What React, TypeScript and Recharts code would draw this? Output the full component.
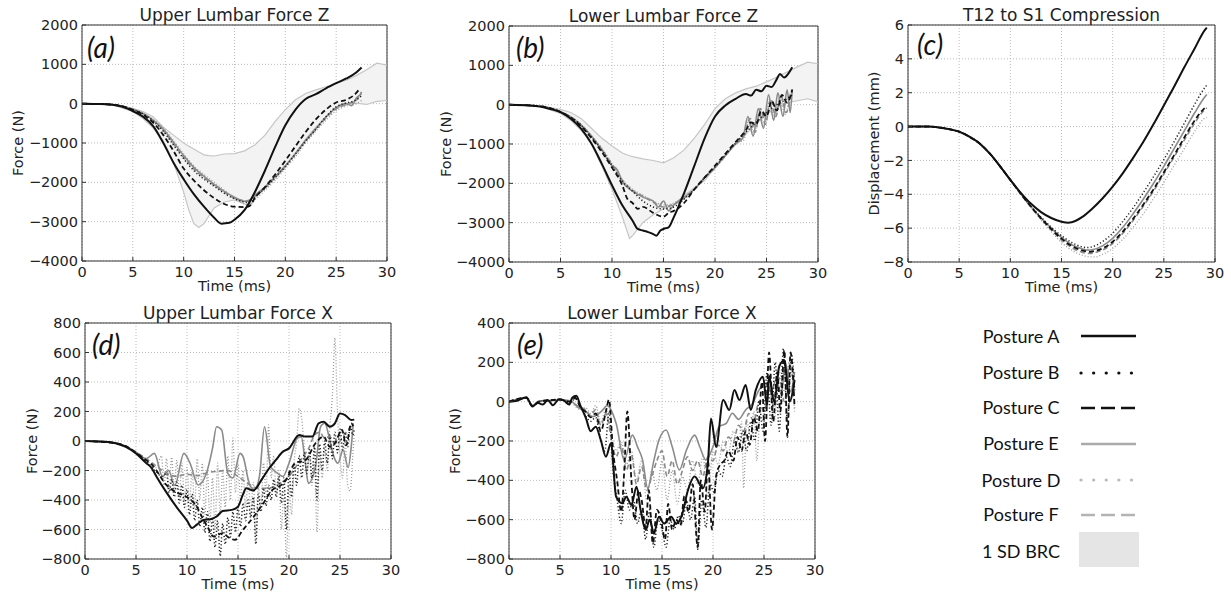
import React from 'react';
import { ComposedChart, Line, Area, XAxis, YAxis, CartesianGrid, ReferenceArea } from 'recharts';

type Pt = [number, number];

// ---------- ticks ----------
const timeTicks = [0, 5, 10, 15, 20, 25, 30];
const forceZTicks = [-4000, -3000, -2000, -1000, 0, 1000, 2000];
const dispTicks = [-8, -6, -4, -2, 0, 2, 4, 6];
const upperXTicks = [-800, -600, -400, -200, 0, 200, 400, 600, 800];
const lowerXTicks = [-800, -600, -400, -200, 0, 200, 400];

const legendLabels = ['Posture A', 'Posture B', 'Posture C', 'Posture E', 'Posture D', 'Posture F', '1 SD BRC'];

// ---------- (a) Upper Lumbar Force Z ----------
const upperZBandT = [0, 3, 5, 6, 7, 8, 9, 10, 10.5, 11, 11.5, 12, 12.5, 13, 14, 15, 16, 16.5, 17, 18, 19, 20, 21, 22, 23, 24, 25, 26, 27, 28, 29, 30];
const upperZBandHi = [0, -20, -120, -200, -330, -600, -800, -1000, -1080, -1150, -1230, -1300, -1320, -1330, -1280, -1270, -1200, -1120, -1050, -800, -450, -150, 100, 260, 350, 430, 520, 600, 720, 860, 1030, 980];
const upperZBandLo = [0, -30, -200, -380, -620, -950, -1500, -2250, -2700, -3050, -3150, -3050, -2850, -2650, -2500, -2450, -2550, -2600, -2400, -2150, -1900, -1600, -1250, -900, -600, -330, -120, -20, 10, -20, 60, 80];
const upperZ_A: Pt[] = [[0,0],[2,-10],[3,-30],[4,-80],[5,-190],[6,-330],[7,-570],[8,-1000],[9,-1500],[10,-1920],[11,-2300],[12,-2620],[13,-2900],[13.7,-3050],[14.5,-3030],[15,-2950],[16,-2700],[17,-2250],[18,-1700],[19,-1100],[20,-550],[21,-150],[22,120],[23,240],[24,390],[25,520],[26,640],[27,800],[27.5,920]];
const upperZ_B: Pt[] = [[0,0],[3,-25],[5,-150],[6,-260],[7,-440],[8,-700],[9,-1050],[10,-1400],[11,-1700],[12,-1920],[13,-2100],[14,-2280],[15,-2420],[16,-2500],[16.5,-2520],[17,-2380],[18,-2150],[19,-1880],[20,-1600],[21,-1280],[22,-950],[23,-650],[24,-330],[25,-80],[26,20],[27,100],[27.5,200]];
const upperZ_C: Pt[] = [[0,0],[3,-25],[5,-160],[6,-280],[7,-480],[8,-800],[9,-1200],[10,-1650],[11,-1950],[12,-2200],[13,-2400],[14,-2550],[15,-2620],[16,-2630],[16.5,-2600],[17,-2400],[18,-2120],[19,-1800],[20,-1450],[21,-1080],[22,-720],[23,-400],[24,-150],[25,30],[26,100],[27,280],[27.3,380]];
const upperZ_E: Pt[] = [[0,0],[3,-25],[5,-150],[6,-250],[7,-420],[8,-650],[9,-980],[10,-1320],[11,-1620],[12,-1850],[13,-2050],[14,-2230],[15,-2380],[16,-2480],[16.5,-2450],[17,-2330],[18,-2120],[19,-1850],[20,-1580],[21,-1270],[22,-930],[23,-640],[24,-340],[25,-100],[26,0],[26.5,-50],[27,150],[27.5,250]];
const upperZ_D: Pt[] = [[0,0],[3,-25],[5,-140],[6,-240],[7,-400],[8,-620],[9,-940],[10,-1280],[11,-1580],[12,-1800],[13,-2000],[14,-2200],[15,-2400],[16,-2550],[16.5,-2580],[17,-2450],[18,-2200],[19,-1950],[20,-1650],[21,-1350],[22,-1000],[23,-700],[24,-420],[25,-180],[26,-60],[27,0],[27.5,80]];
const upperZ_F: Pt[] = [[0,0],[3,-25],[5,-150],[6,-260],[7,-430],[8,-680],[9,-1020],[10,-1360],[11,-1660],[12,-1880],[13,-2070],[14,-2250],[15,-2400],[16,-2470],[16.5,-2480],[17,-2350],[18,-2130],[19,-1870],[20,-1590],[21,-1280],[22,-950],[23,-660],[24,-360],[25,-130],[26,-20],[27,100],[27.5,300]];

// ---------- (b) Lower Lumbar Force Z ----------
const lowerZBandT = [0, 3, 5, 6, 7, 8, 9, 10, 11, 11.7, 12, 13, 14, 15, 16, 17, 18, 19, 20, 21, 22, 23, 24, 25, 26, 27, 28, 29, 30];
const lowerZBandHi = [0, -30, -120, -200, -350, -600, -850, -1050, -1230, -1300, -1320, -1380, -1420, -1480, -1350, -1150, -850, -500, -100, 150, 300, 400, 470, 580, 700, 830, 960, 1080, 1040];
const lowerZBandLo = [0, -40, -220, -400, -650, -1000, -1550, -2150, -2850, -3400, -3330, -3000, -2800, -2650, -2550, -2300, -2120, -1930, -1600, -1280, -1000, -750, -480, -250, -80, 50, 100, 150, 70];
const lowerZ_A: Pt[] = [[0,0],[2,-20],[3,-50],[4,-110],[5,-190],[6,-360],[7,-610],[8,-990],[9,-1500],[10,-2050],[11,-2560],[12,-2950],[12.5,-3160],[13,-3200],[13.5,-3240],[14,-3290],[14.3,-3330],[14.7,-3200],[15,-3160],[15.5,-3120],[16,-2860],[16.6,-2500],[17,-2250],[18,-1550],[19,-850],[20,-300],[21,-20],[22,150],[23,270],[23.5,230],[24,380],[24.5,340],[25,480],[25.5,450],[26,650],[26.3,780],[26.7,690],[27.2,820],[27.5,950]];
const lowerZ_B: Pt[] = [[0,0],[3,-40],[5,-180],[6,-320],[7,-520],[8,-820],[9,-1150],[10,-1550],[11,-1950],[12,-2200],[13,-2450],[14,-2600],[15,-2650],[16,-2600],[17,-2400],[18,-2150],[19,-1850],[20,-1580],[21,-1280],[22,-980],[23,-700],[24,-450],[25,-200],[26,0],[27,150],[27.5,250]];
const lowerZ_C: Pt[] = [[0,0],[3,-40],[5,-190],[6,-330],[7,-550],[8,-850],[9,-1200],[10,-1600],[11,-2050],[11.5,-2400],[12,-2500],[12.5,-2650],[13,-2600],[14,-2750],[15,-2850],[15.5,-2750],[16,-2700],[17,-2500],[18,-2150],[19,-1850],[20,-1550],[21,-1250],[22,-950],[23,-650],[23.5,-450],[24,-500],[24.5,-150],[25,-300],[25.5,100],[26,-150],[26.5,250],[27,50],[27.5,380]];
const lowerZ_E: Pt[] = [[0,0],[3,-40],[5,-180],[6,-320],[7,-520],[8,-800],[9,-1150],[10,-1550],[10.5,-1650],[11,-1950],[12,-2200],[13,-2350],[14,-2450],[14.5,-2600],[15,-2450],[15.5,-2700],[16,-2550],[17,-2350],[18,-2150],[19,-1850],[20,-1600],[21,-1300],[22,-1000],[22.7,-850],[23.2,-300],[23.7,-800],[24.2,-100],[24.7,-600],[25.2,250],[25.7,-400],[26.1,300],[26.6,-300],[27,380],[27.3,-200],[27.5,400]];
const lowerZ_D: Pt[] = [[0,0],[3,-40],[5,-170],[6,-300],[7,-500],[8,-780],[9,-1100],[10,-1500],[11,-1900],[12,-2150],[13,-2300],[14,-2450],[15,-2550],[16,-2500],[17,-2350],[18,-2150],[19,-1850],[20,-1600],[21,-1300],[22,-1000],[22.8,-900],[23.3,-400],[23.8,-750],[24.3,-200],[24.8,-550],[25.3,100],[25.8,-350],[26.3,200],[26.8,-250],[27.3,300]];
const lowerZ_F: Pt[] = [[0,0],[3,-40],[5,-180],[6,-310],[7,-510],[8,-800],[9,-1130],[10,-1520],[11,-1920],[12,-2180],[13,-2330],[14,-2480],[15,-2600],[16,-2530],[17,-2380],[18,-2160],[19,-1870],[20,-1600],[21,-1300],[22,-980],[22.9,-750],[23.4,-350],[23.9,-700],[24.4,-100],[24.9,-500],[25.4,150],[25.9,-300],[26.4,250],[26.9,-200],[27.4,350]];

// ---------- (c) T12 to S1 Compression ----------
const comp_A: Pt[] = [[0,0],[2,0],[3,-0.05],[4,-0.15],[5,-0.3],[6,-0.6],[7,-1.0],[8,-1.6],[9,-2.35],[10,-3.15],[11,-3.9],[12,-4.55],[13,-5.05],[14,-5.4],[15,-5.62],[15.7,-5.68],[16,-5.65],[17,-5.35],[18,-4.85],[19,-4.25],[20,-3.55],[21,-2.75],[22,-1.85],[23,-0.9],[24,0.15],[25,1.25],[26,2.35],[27,3.5],[28,4.6],[29,5.7],[29.2,5.85]];
const comp_B: Pt[] = [[0,0],[2,0],[3,-0.05],[4,-0.15],[5,-0.3],[6,-0.6],[7,-1.0],[8,-1.6],[9,-2.35],[10,-3.15],[11,-3.95],[12,-4.7],[13,-5.35],[14,-5.95],[15,-6.45],[16,-6.85],[17,-7.1],[17.5,-7.15],[18,-7.1],[19,-6.8],[20,-6.3],[21,-5.6],[22,-4.8],[23,-3.9],[24,-2.95],[25,-1.95],[26,-0.9],[27,0.2],[28,1.3],[29,2.3],[29.2,2.45]];
const comp_C: Pt[] = [[0,0],[2,0],[3,-0.05],[4,-0.15],[5,-0.3],[6,-0.6],[7,-1.0],[8,-1.6],[9,-2.35],[10,-3.15],[11,-3.95],[12,-4.72],[13,-5.42],[14,-6.05],[15,-6.62],[16,-7.05],[17,-7.32],[17.8,-7.4],[18,-7.38],[19,-7.2],[20,-6.8],[21,-6.2],[22,-5.45],[23,-4.6],[24,-3.7],[25,-2.7],[26,-1.7],[27,-0.65],[28,0.35],[29,1.1],[29.2,1.2]];
const comp_E: Pt[] = [[0,0],[2,0],[3,-0.05],[4,-0.15],[5,-0.3],[6,-0.6],[7,-1.0],[8,-1.6],[9,-2.35],[10,-3.15],[11,-3.95],[12,-4.72],[13,-5.4],[14,-6.0],[15,-6.55],[16,-6.98],[17,-7.22],[17.7,-7.3],[18,-7.28],[19,-7.05],[20,-6.6],[21,-5.95],[22,-5.15],[23,-4.28],[24,-3.35],[25,-2.35],[26,-1.3],[27,-0.25],[28,0.8],[29,1.75],[29.2,1.9]];
const comp_D: Pt[] = [[0,0],[2,0],[3,-0.05],[4,-0.15],[5,-0.3],[6,-0.6],[7,-1.0],[8,-1.6],[9,-2.35],[10,-3.15],[11,-3.97],[12,-4.75],[13,-5.5],[14,-6.2],[15,-6.85],[16,-7.3],[17,-7.6],[18,-7.7],[18.3,-7.7],[19,-7.55],[20,-7.2],[21,-6.65],[22,-5.95],[23,-5.15],[24,-4.25],[25,-3.3],[26,-2.3],[27,-1.3],[28,-0.3],[29,0.5],[29.2,0.55]];
const comp_F: Pt[] = [[0,0],[2,0],[3,-0.05],[4,-0.15],[5,-0.3],[6,-0.6],[7,-1.0],[8,-1.6],[9,-2.35],[10,-3.15],[11,-3.96],[12,-4.73],[13,-5.45],[14,-6.1],[15,-6.7],[16,-7.15],[17,-7.42],[17.9,-7.5],[18,-7.48],[19,-7.3],[20,-6.9],[21,-6.3],[22,-5.55],[23,-4.7],[24,-3.8],[25,-2.8],[26,-1.8],[27,-0.8],[28,0.2],[29,1.0],[29.2,1.1]];

// ---------- (d) Upper Lumbar Force X ----------
const upperX_A: Pt[] = [[0,0],[2,-5],[3,-15],[4,-40],[5,-85],[6,-150],[6.5,-180],[7,-240],[8,-350],[9,-450],[10,-540],[10.5,-590],[11,-565],[11.6,-535],[12.3,-530],[12.9,-512],[13.5,-475],[14.4,-467],[15,-445],[15.5,-360],[15.8,-320],[16.5,-335],[17.4,-253],[18,-190],[18.7,-130],[19.4,-72],[20,-50],[21,40],[21.6,30],[22.3,30],[22.9,120],[23.4,130],[24,97],[24.5,120],[25,187],[25.5,176],[26.1,142],[26.4,145]];
const upperX_B: Pt[] = [[0,0],[3,-15],[4,-35],[5,-80],[6,-140],[7,-210],[7.5,-240],[8,-220],[8.25,-350],[8.5,-260],[8.75,-380],[9,-280],[9.25,-420],[9.5,-300],[9.75,-450],[10,-330],[10.25,-500],[10.5,-360],[10.75,-540],[11,-400],[11.25,-580],[11.5,-450],[11.75,-620],[12,-480],[12.25,-680],[12.5,-520],[12.75,-720],[13,-540],[13.25,-780],[13.5,-560],[13.75,-700],[14,-520],[14.25,-650],[14.5,-480],[14.75,-620],[15,-450],[15.25,-580],[15.5,-420],[15.75,-540],[16,-400],[16.25,-520],[16.5,-380],[16.75,-700],[17,-360],[17.25,-480],[17.5,-320],[17.75,-440],[18,-300],[18.25,-400],[18.5,-260],[18.75,-380],[19,-240],[19.25,-420],[19.5,-250],[19.75,-600],[20,-200],[20.25,-380],[20.5,-150],[20.75,-300],[21,-100],[21.25,-250],[21.5,-80],[21.75,-220],[22,-60],[22.25,-250],[22.5,-40],[22.75,-400],[23,-20],[23.25,-200],[23.5,0],[23.75,-150],[24,40],[24.25,-120],[24.5,60],[24.75,-80],[25,80],[25.25,-60],[25.5,60],[25.75,-40],[26,100],[26.25,40],[26.4,80]];
const upperX_C: Pt[] = [[0,0],[3,-15],[4,-35],[5,-80],[6,-130],[6.5,-155],[7,-200],[8,-300],[9,-350],[10,-380],[11,-450],[11.5,-520],[12,-580],[12.6,-648],[13.5,-625],[14,-650],[14.7,-670],[15.5,-600],[16,-560],[16.8,-490],[17.5,-420],[18.4,-330],[19,-310],[19.7,-265],[20.6,-150],[21.6,-130],[22.6,-15],[23.4,30],[24,-40],[24.5,-15],[25.2,75],[25.6,-30],[26.1,120],[26.3,100]];
const upperX_E: Pt[] = [[0,0],[3,-15],[4,-35],[5,-75],[6,-120],[6.8,-84],[7.6,-241],[8.2,-200],[8.8,-300],[9.7,-84],[10.3,-151],[11.1,-298],[11.9,-219],[12.5,-50],[12.9,97],[13.4,74],[14,-219],[14.5,-250],[15.2,-84],[15.5,-106],[16.1,-287],[16.6,-330],[17.1,-241],[17.6,97],[18.2,-174],[18.9,-219],[19.4,-241],[20,-151],[20.8,18],[21.2,30],[21.6,-151],[21.9,-287],[22.6,-174],[23.1,97],[23.5,120],[24,7],[24.4,-106],[24.8,-151],[25.3,-60],[25.8,-180],[26.1,-40],[26.3,120]];
const upperX_D: Pt[] = [[0,0],[3,-15],[4,-35],[5,-75],[6,-130],[7,-180],[7.5,-100],[7.75,-300],[8,-120],[8.25,-330],[8.5,-110],[8.75,-350],[9,-130],[9.25,-380],[9.5,-150],[9.75,-400],[10,-180],[10.25,-420],[10.5,-200],[10.75,-450],[11,-120],[11.25,-400],[11.5,-150],[11.75,-500],[12,-200],[12.25,-550],[12.5,-250],[12.75,-600],[13,-150],[13.25,-500],[13.5,-200],[13.75,-450],[14,-100],[14.25,-400],[14.5,20],[14.75,-350],[15,-150],[15.25,-400],[15.5,-200],[15.75,-450],[16,-250],[16.25,-500],[16.5,-280],[16.75,-650],[17,-300],[17.25,-450],[17.5,-150],[17.75,-350],[18,110],[18.25,-250],[18.5,-100],[18.75,-350],[19,-200],[19.25,-600],[19.5,-350],[19.75,-800],[20,-300],[20.25,-500],[20.5,-150],[20.75,0],[21,220],[21.25,150],[21.5,-50],[21.75,-200],[22,-100],[22.25,-300],[22.5,-150],[22.75,-620],[23,-80],[23.25,-250],[23.5,-50],[23.75,-200],[24,100],[24.25,300],[24.5,700],[24.75,200],[25,-100],[25.25,-250],[25.5,0],[25.75,-300],[26,-340],[26.25,-100],[26.4,50]];
const upperX_F: Pt[] = [[0,0],[3,-15],[4,-35],[5,-75],[6,-120],[7,-170],[8,-220],[9,-240],[10,-225],[11,-235],[12,-215],[13,-205],[14,-200],[15,-240],[16,-290],[17,-320],[18,-320],[19,-290],[20,-240],[21,-140],[22,-40],[22.5,40],[23,60],[23.5,20],[24,30],[24.5,-20],[25,0],[25.5,50],[26,90],[26.3,120]];

// ---------- (e) Lower Lumbar Force X ----------
const lowerX_A: Pt[] = [[0,0],[0.8,5],[1.7,22],[2.3,-25],[2.8,-5],[3.3,-15],[3.8,8],[4.3,-18],[4.9,12],[5.4,5],[5.9,-15],[6.2,20],[6.6,30],[7,-20],[7.55,-85],[8,-150],[8.5,-127],[9,-195],[9.5,-280],[10,-212],[10.5,-483],[11.1,-517],[11.5,-483],[12,-525],[12.5,-432],[12.9,-550],[13.4,-652],[13.8,-600],[14.2,-670],[14.7,-585],[15.2,-620],[15.9,-585],[16.4,-620],[17,-568],[17.5,-458],[18.2,-380],[19,-440],[19.5,-313],[19.8,-85],[20.3,-230],[21,8],[21.6,-42],[22.1,59],[22.6,8],[23.2,85],[23.7,-42],[24.2,60],[24.9,127],[25.3,-20],[25.5,130],[26,0],[26.5,180],[27,210],[27.5,0],[28,110]];
const lowerX_B: Pt[] = [[0,0],[1.7,18],[2.3,-22],[3,2],[4,6],[5,12],[6,-5],[6.5,15],[7,-20],[7.5,-70],[8,-100],[8.5,-80],[9,-200],[9.4,-250],[9.8,-50],[10.2,-350],[10.6,-500],[11,-620],[11.4,-450],[11.8,-550],[12.2,-500],[12.6,-620],[13,-550],[13.4,-700],[13.8,-550],[14.2,-740],[14.6,-600],[15,-650],[15.4,-740],[15.8,-600],[16.2,-650],[16.6,-580],[17,-620],[17.4,-500],[17.8,-600],[18.2,-480],[18.5,-750],[18.9,-500],[19.3,-640],[19.7,-420],[20.1,-460],[20.5,-350],[20.9,-380],[21.3,-280],[21.7,-330],[22.1,-200],[22.5,-260],[22.9,-150],[23.3,-250],[23.7,-100],[24.1,-200],[24.5,0],[24.9,-150],[25.3,150],[25.7,-120],[26.1,200],[26.5,-150],[26.9,270],[27.3,-100],[27.7,240],[28,50]];
const lowerX_C: Pt[] = [[0,0],[1.7,20],[2.3,-22],[3,0],[4,8],[5,10],[6,0],[6.5,20],[7,-30],[7.5,-50],[8,-80],[8.5,-60],[9,-150],[9.5,-50],[9.8,10],[10.2,-250],[10.6,-400],[11,-560],[11.3,-350],[11.6,-50],[12,-400],[12.3,-600],[12.7,-450],[13,-500],[13.4,-640],[13.7,-450],[14.1,-720],[14.5,-550],[14.9,-600],[15.3,-700],[15.6,-520],[16,-650],[16.4,-600],[16.8,-630],[17.2,-480],[17.6,-560],[18,-420],[18.5,-740],[18.8,-400],[19.2,-560],[19.5,-300],[19.9,-650],[20.3,-380],[20.7,-320],[21.1,-300],[21.5,-250],[22,-300],[22.4,-180],[22.8,-250],[23.2,-150],[23.6,-220],[24,-80],[24.4,-150],[24.8,100],[25.1,-200],[25.5,250],[25.9,-100],[26.3,150],[26.6,-50],[27,260],[27.3,-180],[27.6,250],[28,-30]];
const lowerX_E: Pt[] = [[0,0],[1.7,20],[2.3,-20],[3,5],[4,5],[5,10],[6,5],[6.9,-34],[7.5,-50],[8.2,-76],[9.2,-42],[9.6,-20],[10.5,-110],[11.3,-297],[12.1,-170],[12.6,-230],[13.1,-297],[13.6,-440],[14.2,-300],[14.7,-195],[15.4,-144],[16,-229],[16.7,-347],[17.4,-246],[18.2,-170],[18.7,-229],[19.3,-297],[20,-229],[20.6,-127],[21.3,-110],[21.9,-59],[22.5,-90],[23.2,-42],[23.9,-8],[24.5,59],[25.2,93],[25.7,50],[26.2,110],[26.7,40],[27.1,200],[27.6,50],[28,150]];
const lowerX_D: Pt[] = [[0,0],[1.7,20],[2.3,-20],[3,3],[4,6],[5,10],[6,0],[7,-40],[7.5,-30],[8,-60],[8.5,-20],[9,-100],[9.5,-40],[10,-150],[10.5,-250],[11,-200],[11.5,-320],[12,-250],[12.5,-400],[13,-300],[13.5,-500],[14,-350],[14.5,-450],[15,-300],[15.5,-500],[16,-350],[16.5,-520],[17,-380],[17.5,-450],[18,-300],[18.5,-420],[19,-280],[19.5,-480],[20,-250],[20.5,-320],[21,-200],[21.5,-260],[22,-150],[22.5,-250],[22.8,-100],[23,-440],[23.3,-100],[23.7,-180],[24,-50],[24.3,-300],[24.6,-80],[25,-100],[25.5,100],[26,-100],[26.5,150],[27,50],[27.5,200],[28,-50]];
const lowerX_F: Pt[] = [[0,0],[1.7,20],[2.3,-20],[3,4],[4,7],[5,10],[6,0],[7,-30],[7.5,-40],[8,-70],[8.5,-40],[9,-120],[9.5,-60],[10,-180],[10.5,-280],[11,-220],[11.5,-350],[12,-270],[12.5,-420],[13,-330],[13.5,-450],[14,-380],[14.5,-300],[15,-250],[15.5,-380],[16,-300],[16.5,-420],[17,-350],[17.5,-280],[18,-350],[18.5,-300],[19,-380],[19.5,-280],[20,-300],[20.5,-220],[21,-250],[21.5,-180],[22,-200],[22.5,-120],[23,-150],[23.5,-60],[24,-100],[24.5,0],[25,-50],[25.5,80],[26,-30],[26.5,120],[27,0],[27.5,180],[28,60]];

// ---------- styles ----------
type Key = 'A' | 'B' | 'C' | 'D' | 'E' | 'F';
const lineStyle: Record<Key, { stroke: string; width: number; dash?: string }> = {
  A: { stroke: '#111', width: 2 },
  B: { stroke: '#222', width: 1.5, dash: '1.2 2.2' },
  C: { stroke: '#111', width: 1.8, dash: '5 3' },
  E: { stroke: '#8a8a8a', width: 1.6 },
  D: { stroke: '#9a9a9a', width: 1.3, dash: '1 2' },
  F: { stroke: '#8a8a8a', width: 1.6, dash: '5 3' },
};
const drawOrder: Key[] = ['E', 'D', 'F', 'B', 'C', 'A'];

interface PanelDef {
  left: number; top: number; w: number; h: number;
  title: string; yLabel: string; yLabelX: number; xLabelDy: number;
  tag: string; tagX: number; tagY: number;
  yTicks: number[];
  series: Record<Key, Pt[]>;
  band?: { t: number[]; lo: number[]; hi: number[] };
}

const panels: PanelDef[] = [
  { left: 82, top: 25, w: 305, h: 236, title: 'Upper Lumbar Force Z', yLabel: 'Force (N)', yLabelX: 18, xLabelDy: 30,
    tag: '(a)', tagX: 87, tagY: 58, yTicks: forceZTicks,
    series: { A: upperZ_A, B: upperZ_B, C: upperZ_C, D: upperZ_D, E: upperZ_E, F: upperZ_F },
    band: { t: upperZBandT, lo: upperZBandLo, hi: upperZBandHi } },
  { left: 509, top: 26, w: 309, h: 236, title: 'Lower Lumbar Force Z', yLabel: 'Force (N)', yLabelX: 446, xLabelDy: 30,
    tag: '(b)', tagX: 516, tagY: 58, yTicks: forceZTicks,
    series: { A: lowerZ_A, B: lowerZ_B, C: lowerZ_C, D: lowerZ_D, E: lowerZ_E, F: lowerZ_F },
    band: { t: lowerZBandT, lo: lowerZBandLo, hi: lowerZBandHi } },
  { left: 908, top: 25, w: 307, h: 237, title: 'T12 to S1 Compression', yLabel: 'Displacement (mm)', yLabelX: 874, xLabelDy: 30,
    tag: '(c)', tagX: 917, tagY: 55, yTicks: dispTicks,
    series: { A: comp_A, B: comp_B, C: comp_C, D: comp_D, E: comp_E, F: comp_F } },
  { left: 85, top: 323, w: 306, h: 236, title: 'Upper Lumbar Force X', yLabel: 'Force (N)', yLabelX: 32, xLabelDy: 30,
    tag: '(d)', tagX: 92, tagY: 355, yTicks: upperXTicks,
    series: { A: upperX_A, B: upperX_B, C: upperX_C, D: upperX_D, E: upperX_E, F: upperX_F } },
  { left: 509, top: 323, w: 306, h: 236, title: 'Lower Lumbar Force X', yLabel: 'Force (N)', yLabelX: 455, xLabelDy: 30,
    tag: '(e)', tagX: 517, tagY: 355, yTicks: lowerXTicks,
    series: { A: lowerX_A, B: lowerX_B, C: lowerX_C, D: lowerX_D, E: lowerX_E, F: lowerX_F } },
];

const AXIS_FONT = "'DejaVu Sans', sans-serif";
const Y_AXIS_W = 75;
const M_TOP = 10;
const X_AXIS_H = 40;
const M_RIGHT = 10;

const fmt = (v: number) => (v < 0 ? '\u2212' + Math.abs(v) : String(v));

function Panel({ p }: { p: PanelDef }) {
  const yMin = p.yTicks[0];
  const yMax = p.yTicks[p.yTicks.length - 1];
  const bandData = p.band
    ? p.band.t.map((t, i) => ({ t, lo: p.band!.lo[i], hi: p.band!.hi[i], range: [p.band!.lo[i], p.band!.hi[i]] }))
    : [];
  const tickStyle = { fontFamily: AXIS_FONT, fontSize: 14.5, fill: '#222' };
  return (
    <div style={{ position: 'absolute', left: p.left - Y_AXIS_W, top: p.top - M_TOP }}>
      <ComposedChart
        width={p.w + Y_AXIS_W + M_RIGHT}
        height={p.h + M_TOP + X_AXIS_H}
        data={bandData}
        margin={{ top: M_TOP, right: M_RIGHT, bottom: 0, left: 0 }}
      >
        <CartesianGrid stroke="#bdbdbd" strokeDasharray="1 2" strokeWidth={1} />
        <XAxis
          dataKey="t" type="number" domain={[0, 30]} ticks={timeTicks} interval={0}
          allowDataOverflow height={X_AXIS_H} axisLine={false}
          tickSize={-4} tickMargin={10} tickLine={{ stroke: '#333' }} tick={tickStyle}
        />
        <YAxis
          type="number" domain={[yMin, yMax]} ticks={p.yTicks} interval={0}
          allowDataOverflow width={Y_AXIS_W} axisLine={false}
          tickSize={-4} tickMargin={8} tickLine={{ stroke: '#333' }} tick={tickStyle}
          tickFormatter={fmt}
        />
        {p.band && (
          <Area dataKey="range" type="linear" fill="#f3f3f3" fillOpacity={1} stroke="none" isAnimationActive={false} dot={false} activeDot={false} />
        )}
        {p.band && (
          <Line dataKey="hi" type="linear" stroke="#c6c6c6" strokeWidth={1.2} dot={false} activeDot={false} isAnimationActive={false} />
        )}
        {p.band && (
          <Line dataKey="lo" type="linear" stroke="#c6c6c6" strokeWidth={1.2} dot={false} activeDot={false} isAnimationActive={false} />
        )}
        {drawOrder.map((k) => (
          <Line
            key={k}
            data={p.series[k].map(([t, v]) => ({ t, v }))}
            dataKey="v"
            type="monotoneX"
            stroke={lineStyle[k].stroke}
            strokeWidth={lineStyle[k].width}
            strokeDasharray={lineStyle[k].dash}
            dot={false}
            activeDot={false}
            isAnimationActive={false}
          />
        ))}
        <ReferenceArea x1={0} x2={30} y1={yMin} y2={yMax} fill="none" stroke="#333" strokeWidth={1} ifOverflow="visible" />
      </ComposedChart>
    </div>
  );
}

const legendKeys: Key[] = ['A', 'B', 'C', 'E', 'D', 'F'];
const legendRows = [
  { base: 343, line: 336 },
  { base: 379, line: 373 },
  { base: 414, line: 408 },
  { base: 450, line: 444 },
  { base: 487, line: 480 },
  { base: 521, line: 515 },
  { base: 558, line: 549 },
];
const legendSwatch: Record<Key, { stroke: string; width: number; dash?: string; cap?: 'round' | 'butt' }> = {
  A: { stroke: '#111', width: 2.6 },
  B: { stroke: '#111', width: 3.2, dash: '0.1 12.5', cap: 'round' },
  C: { stroke: '#111', width: 2.6, dash: '14 6' },
  E: { stroke: '#aaa', width: 2.4 },
  D: { stroke: '#bbb', width: 3.2, dash: '0.1 12.5', cap: 'round' },
  F: { stroke: '#b3b3b3', width: 2.4, dash: '14 6' },
};

export default function App() {
  return (
    <div style={{ position: 'relative', width: 1231, height: 595, background: '#fff', overflow: 'hidden' }}>
      <style>{`body{margin:0;background:#fff;}`}</style>
      {panels.map((p, i) => (
        <Panel key={i} p={p} />
      ))}
      <svg width={1231} height={595} style={{ position: 'absolute', left: 0, top: 0, pointerEvents: 'none' }}>
        {panels.map((p, i) => (
          <g key={i}>
            <text x={p.left + p.w / 2} y={p.top - 4} textAnchor="middle" fontFamily={AXIS_FONT} fontSize={17} fill="#222">
              {p.title}
            </text>
            <text x={p.left + p.w / 2} y={p.top + p.h + p.xLabelDy} textAnchor="middle" fontFamily={AXIS_FONT} fontSize={14.5} fill="#222">
              Time (ms)
            </text>
            <text
              x={p.yLabelX} y={p.top + p.h / 2}
              transform={`rotate(-90 ${p.yLabelX} ${p.top + p.h / 2})`}
              textAnchor="middle" dominantBaseline="central"
              fontFamily={AXIS_FONT} fontSize={14.5} fill="#222"
            >
              {p.yLabel}
            </text>
            <text x={p.tagX} y={p.tagY} fontFamily="Lato, 'Open Sans', sans-serif" fontStyle="italic" fontSize={28} fill="#111">
              {p.tag}
            </text>
          </g>
        ))}
        {legendKeys.map((k, i) => (
          <g key={k}>
            <text x={1021} y={legendRows[i].base} textAnchor="middle" fontFamily="Lato, sans-serif" fontSize={18} fill="#111">
              {legendLabels[i]}
            </text>
            <line
              x1={1081} x2={1136} y1={legendRows[i].line} y2={legendRows[i].line}
              stroke={legendSwatch[k].stroke} strokeWidth={legendSwatch[k].width}
              strokeDasharray={legendSwatch[k].dash} strokeLinecap={legendSwatch[k].cap || 'butt'}
            />
          </g>
        ))}
        <text x={1021} y={legendRows[6].base} textAnchor="middle" fontFamily="Lato, sans-serif" fontSize={18} fill="#111">
          {legendLabels[6]}
        </text>
        <rect x={1079} y={532} width={60} height={35} fill="#e5e5e5" />
      </svg>
    </div>
  );
}
